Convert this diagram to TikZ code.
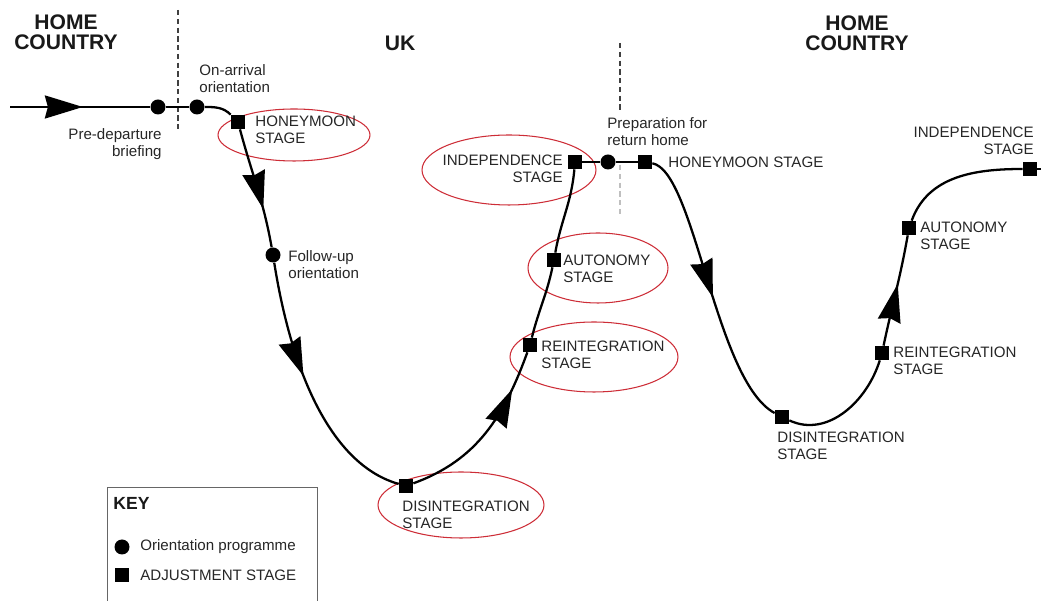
\documentclass[tikz,border=0pt]{standalone}
\usepackage{fontspec}
\setmainfont{Liberation Sans}
\usetikzlibrary{arrows.meta}
\usetikzlibrary{decorations.markings}
\definecolor{ringred}{RGB}{205,45,55}

\begin{document}
\begin{tikzpicture}[x=0.02cm, y=0.02cm,
		orient/.style={circle, fill=black, inner sep=0pt, minimum size=0.3cm},
		adjust/.style={rectangle, fill=black, inner sep=0pt, minimum size=0.28cm},
		lbl/.style={font=\fontsize{8.6}{9.6}\selectfont, text=black!85, inner sep=0pt},
		region/.style={font=\fontsize{12}{11.5}\selectfont\bfseries, align=center, text=black!90, inner sep=0pt},
		curve/.style={line width=1.3pt},
		ring/.style={draw=ringred, line width=0.6pt},
		border/.style={densely dashed, line width=0.9pt, black!75},
		midarrow/.style={postaction={decorate}, decoration={markings,
				mark=at position #1 with {\arrow{Stealth[length=0.76cm, width=0.46cm, inset=0.06cm]}}}}]
	
	\useasboundingbox (0,0) rectangle (1041,601);
	
	% Grenzen
	\draw[border] (178,591) -- (178,469);
	\draw[border] (620,558) -- (620,489);
	\draw[border, black!25] (620,436) -- (620,384);
	
	% Regionen
	\node[region] (homeA) at (66,569) {HOME\\COUNTRY};
	\node[region] (uk) at (400,558) {UK};
	\node[region] (homeB) at (857,568) {HOME\\COUNTRY};
	
	% Kreise um die Stufen
	\draw[ring] (294,466) ellipse [x radius=1.52cm, y radius=0.52cm];
	\draw[ring] (509,431) ellipse [x radius=1.74cm, y radius=0.70cm];
	\draw[ring] (598,333) ellipse [x radius=1.40cm, y radius=0.70cm];
	\draw[ring] (594,244) ellipse [x radius=1.68cm, y radius=0.70cm];
	\draw[ring] (461,96) ellipse [x radius=1.66cm, y radius=0.66cm];
	
	% Punkte und Stufen
	\coordinate (start) at (10,494);
	\node[orient] (predep) at (158,494) {};
	\node[orient] (onarr) at (197,494) {};
	\node[adjust] (honeyA) at (238,479) {};
	\node[orient] (follow) at (273,346) {};
	\node[adjust] (disintA) at (406,115) {};
	\node[adjust] (reintA) at (530,256) {};
	\node[adjust] (autonA) at (554,341) {};
	\node[adjust] (indepA) at (575,439) {};
	\node[orient] (prep) at (608,439) {};
	\node[adjust] (honeyB) at (645,439) {};
	\node[adjust] (disintB) at (782,184) {};
	\node[adjust] (reintB) at (882,248) {};
	\node[adjust] (autonB) at (909,373) {};
	\node[adjust] (indepB) at (1030,432) {};
	\coordinate (end) at (1041,432);
	
	% Kurve
	\draw[curve, midarrow=0.52] (start) -- (predep);
	\draw[curve] (predep) -- (onarr);
	\draw[curve] (onarr) to[out=0, in=135] (honeyA);
	\draw[curve, midarrow=0.68] (honeyA) to[out=-75, in=100] (follow);
	\draw[curve, midarrow=0.44] (follow) .. controls +(20,-126) and +(-71,20) .. (disintA);
	\draw[curve, midarrow=0.78] (disintA) to[out=20, in=-110] (reintA);
	\draw[curve] (reintA) to[out=76, in=-102] (autonA);
	\draw[curve] (autonA) to[out=80, in=-95] (indepA);
	\draw[curve] (indepA) -- (prep) -- (honeyB);
	\draw[curve, midarrow=0.53] (honeyB) .. controls +(50,-9) and +(-67,36) .. (disintB);
	\draw[curve] (disintB) to[out=-25, in=-107] (reintB);
	\draw[curve, midarrow=0.56] (reintB) to[out=78, in=-100] (autonB);
	\draw[curve] (autonB) to[out=70, in=180] (indepB);
	\draw[curve] (indepB) -- (end);
	
	% Beschriftungen
	\node[lbl, align=right, anchor=east] at (162,457) {Pre-departure\\briefing};
	\node[lbl, align=left, anchor=west] at (199,522) {On-arrival\\orientation};
	\node[lbl, align=left, anchor=west] at (255,471) {HONEYMOON\\STAGE};
	\node[lbl, align=left, anchor=west] at (288,336) {Follow-up\\orientation};
	\node[lbl, align=right, anchor=east] at (563,432) {INDEPENDENCE\\STAGE};
	\node[lbl, align=left, anchor=west] at (607,469) {Preparation for\\return home};
	\node[lbl, anchor=west] at (668,439) {HONEYMOON STAGE};
	\node[lbl, align=left, anchor=west] at (563,332) {AUTONOMY\\STAGE};
	\node[lbl, align=left, anchor=west] at (541,246) {REINTEGRATION\\STAGE};
	\node[lbl, align=left, anchor=west] at (402,86) {DISINTEGRATION\\STAGE};
	\node[lbl, align=left, anchor=west] at (777,155) {DISINTEGRATION\\STAGE};
	\node[lbl, align=left, anchor=west] at (893,240) {REINTEGRATION\\STAGE};
	\node[lbl, align=left, anchor=west] at (920,365) {AUTONOMY\\STAGE};
	\node[lbl, align=right, anchor=east] at (1034,460) {INDEPENDENCE\\STAGE};
	
	% Legende
	\draw[black!60, line width=0.5pt] (107,0) |- (317,114) -- (317,0);
	\node[font=\fontsize{10}{12}\selectfont\bfseries, text=black!90, inner sep=0pt, anchor=west] (key) at (113,98) {KEY};
	\node[orient] (keydot) at (122,54) {};
	\node[lbl, anchor=west] (keydottext) at (140,54) {Orientation programme};
	\node[adjust] (keysq) at (122,26) {};
	\node[lbl, anchor=west] (keysqtext) at (140,26) {ADJUSTMENT STAGE};
	
\end{tikzpicture}
\end{document}
